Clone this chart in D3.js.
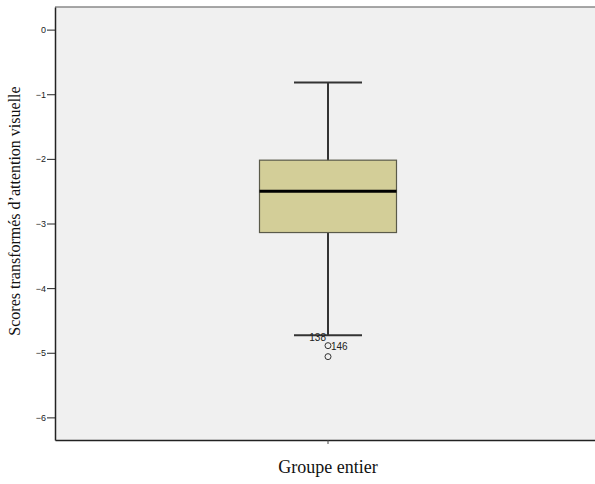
<!DOCTYPE html>
<html lang="fr">
<head>
<meta charset="utf-8">
<title>Boxplot</title>
<script src="https://d3js.org/d3.v7.min.js"></script>
<style>
  body { margin: 0; background: #fff; }
</style>
</head>
<body>
<div id="chart"></div>
<script>
// Data
const groups = ["Groupe entier"];
const whiskerLow = [-4.73];
const q1 = [-3.14];
const median = [-2.50];
const q3 = [-2.02];
const whiskerHigh = [-0.82];
const outlierValues = [-4.89, -5.06];
const outlierIds = ["138", "146"];
const yTicks = [0, -1, -2, -3, -4, -5, -6];

const W = 595, H = 484;
const margin = { top: 7, right: -6, bottom: 44, left: 55 };
const width = W - margin.left - margin.right;
const height = H - margin.top - margin.bottom;

const svg = d3.select("#chart").append("svg")
  .attr("width", W).attr("height", H);

const g = svg.append("g")
  .attr("transform", `translate(${margin.left},${margin.top})`);

// Scales
const y = d3.scaleLinear().domain([-6.35, 0.35]).range([height, 0]);
const x = d3.scaleBand().domain(groups).range([0, width]).padding(0);

// Plot background
g.append("rect")
  .attr("width", width).attr("height", height)
  .attr("fill", "#f0f0f0");

g.append("line")
  .attr("x1", 0).attr("x2", width).attr("y1", 0).attr("y2", 0)
  .attr("stroke", "#8a8a8a").attr("stroke-width", 1.5);

// Axes
const yAxis = g.append("g")
  .call(d3.axisLeft(y).tickValues(yTicks).tickSizeInner(8).tickSizeOuter(0)
    .tickPadding(1).tickFormat(d3.format("d")));
yAxis.select(".domain").attr("stroke", "#222").attr("stroke-width", 1.5);
yAxis.selectAll(".tick line").attr("stroke", "#222");
yAxis.selectAll("text")
  .style("font-family", "Arial, 'Liberation Sans', sans-serif")
  .style("font-size", "9px").attr("fill", "#222");

const xAxis = g.append("g")
  .attr("transform", `translate(0,${height})`)
  .call(d3.axisBottom(x).tickSizeInner(4).tickSizeOuter(0).tickFormat(""));
xAxis.select(".domain").attr("stroke", "#222").attr("stroke-width", 1.5);
xAxis.selectAll(".tick line").attr("stroke", "#444");

// Boxes
const boxW = 137, capW = 68;
groups.forEach((grp, i) => {
  const cx = x(grp) + x.bandwidth() / 2;

  g.append("line")
    .attr("x1", cx).attr("x2", cx)
    .attr("y1", y(whiskerHigh[i])).attr("y2", y(whiskerLow[i]))
    .attr("stroke", "#333").attr("stroke-width", 2);

  [whiskerHigh[i], whiskerLow[i]].forEach(v => {
    g.append("line")
      .attr("x1", cx - capW / 2).attr("x2", cx + capW / 2)
      .attr("y1", y(v)).attr("y2", y(v))
      .attr("stroke", "#333").attr("stroke-width", 2);
  });

  g.append("rect")
    .attr("x", cx - boxW / 2).attr("width", boxW)
    .attr("y", y(q3[i])).attr("height", y(q1[i]) - y(q3[i]))
    .attr("fill", "#d3ce98").attr("stroke", "#5a5a4a").attr("stroke-width", 1.2);

  g.append("line")
    .attr("x1", cx - boxW / 2).attr("x2", cx + boxW / 2)
    .attr("y1", y(median[i])).attr("y2", y(median[i]))
    .attr("stroke", "#000").attr("stroke-width", 3);

  outlierValues.forEach(v => {
    g.append("circle")
      .attr("cx", cx).attr("cy", y(v)).attr("r", 3)
      .attr("fill", "none").attr("stroke", "#333").attr("stroke-width", 1);
  });

  // outlier labels
  g.append("text")
    .attr("x", cx - 2).attr("y", y(outlierValues[0]) - 5)
    .attr("text-anchor", "end")
    .style("font-family", "Arial, 'Liberation Sans', sans-serif")
    .style("font-size", "10px").attr("fill", "#222")
    .text(outlierIds[0]);
  g.append("text")
    .attr("x", cx + 3).attr("y", y(outlierValues[0]) + 4)
    .style("font-family", "Arial, 'Liberation Sans', sans-serif")
    .style("font-size", "10px").attr("fill", "#222")
    .text(outlierIds[1]);
});

// Axis titles
svg.append("text")
  .attr("transform", `translate(20,211) rotate(-90)`)
  .attr("text-anchor", "middle")
  .style("font-family", "'Liberation Serif', 'Times New Roman', serif")
  .style("font-size", "16px").attr("fill", "#111")
  .text("Scores transformés d’attention visuelle");

svg.append("text")
  .attr("x", margin.left + x(groups[0]) + x.bandwidth() / 2)
  .attr("y", 473)
  .attr("text-anchor", "middle")
  .style("font-family", "'Liberation Serif', 'Times New Roman', serif")
  .style("font-size", "18px").attr("fill", "#111")
  .text(groups[0]);
</script>
</body>
</html>
